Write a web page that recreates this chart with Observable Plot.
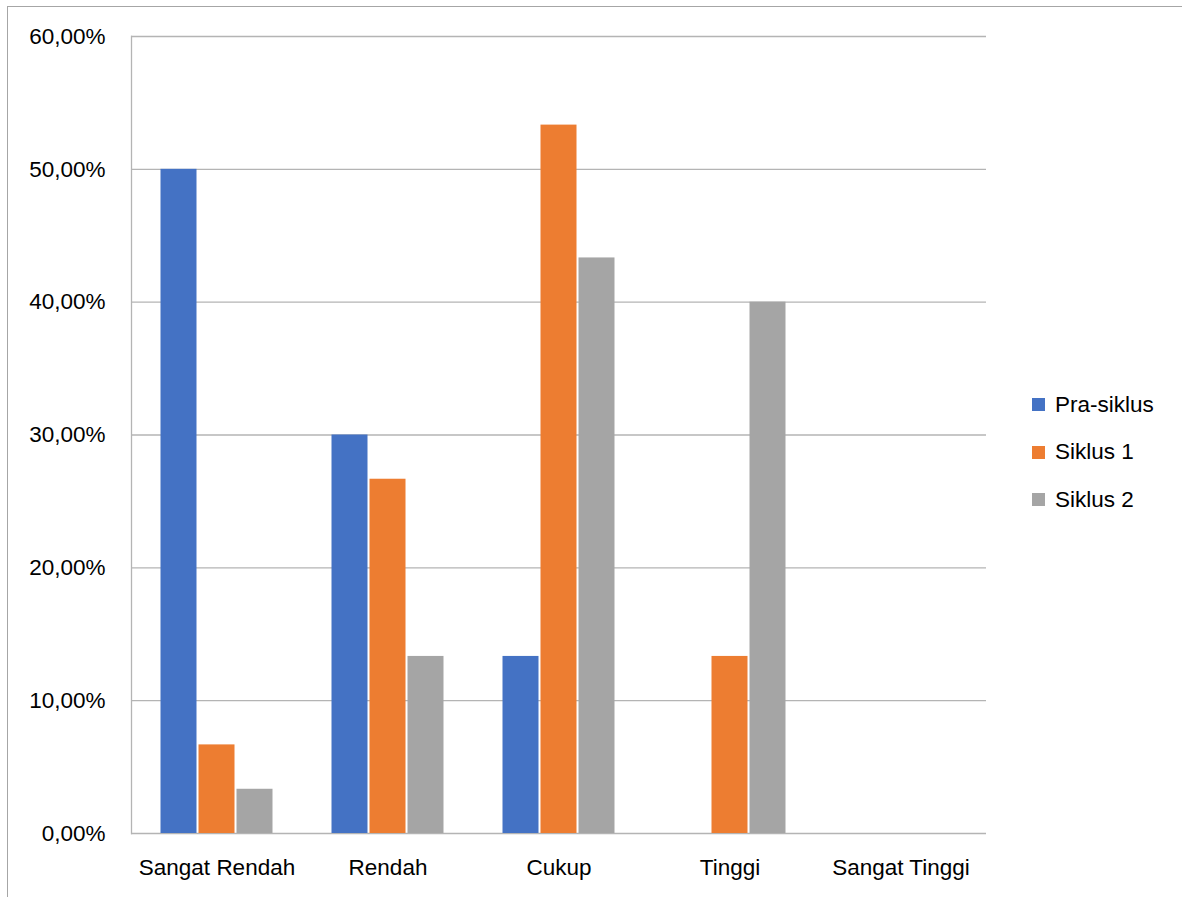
<!DOCTYPE html>
<html>
<head>
<meta charset="utf-8">
<script src="https://cdn.jsdelivr.net/npm/d3@7"></script>
<script src="https://cdn.jsdelivr.net/npm/@observablehq/plot@0.6"></script>
<style>
  html, body { margin: 0; padding: 0; background: #fff; }
  #wrap { position: relative; width: 1182px; height: 897px; overflow: hidden; font-family: "Liberation Sans", Arial, sans-serif; }
  #border { position: absolute; left: 7px; top: 6px; right: -2px; bottom: -2px; border-top: 1.5px solid #a6a6a6; border-left: 1.5px solid #a6a6a6; }
  #chart { position: absolute; left: 0; top: 0; }
  #legend { position: absolute; left: 1032px; top: 381px; font-size: 22.5px; color: #000; }
  #legend .item { display: flex; align-items: center; height: 47.5px; }
  #legend .sw { width: 13px; height: 13px; margin-right: 10px; }
</style>
</head>
<body>
<div id="wrap">
  <div id="border"></div>
  <div id="chart"></div>
  <div id="legend"></div>
</div>
<script>
const categories = ["Sangat Rendah", "Rendah", "Cukup", "Tinggi", "Sangat Tinggi"];
const series = ["Pra-siklus", "Siklus 1", "Siklus 2"];
const colors = ["#4472C4", "#ED7D31", "#A5A5A5"];
const praSiklus = [50.00, 30.00, 13.33, 0, 0];
const siklus1 = [6.67, 26.67, 53.33, 13.33, 0];
const siklus2 = [3.33, 13.33, 43.33, 40.00, 0];
const yTicks = [0, 10, 20, 30, 40, 50, 60];

const values = [praSiklus, siklus1, siklus2];
const data = [];
categories.forEach((c, i) => {
  series.forEach((s, j) => data.push({category: c, series: s, value: values[j][i]}));
});

const fmt = d => d.toFixed(2).replace(".", ",") + "%";

const chart = Plot.plot({
  width: 1182,
  height: 897,
  marginLeft: 129,
  marginRight: 194,
  marginTop: 36,
  marginBottom: 64,
  style: {fontFamily: "'Liberation Sans', Arial, sans-serif", fontSize: "22.5px", color: "#000", background: "transparent"},
  fx: {domain: categories, padding: 0, label: null, axis: "bottom", tickSize: 0, tickPadding: 26},
  x: {domain: series, axis: null, paddingInner: 0.03, paddingOuter: 0.76},
  y: {domain: [0, 60], ticks: yTicks, tickFormat: fmt, label: null, tickSize: 0, tickPadding: 26},
  color: {domain: series, range: colors},
  marks: [
    Plot.ruleY(yTicks, {stroke: "#b4b4b4", strokeWidth: 1.3}),
    Plot.frame({anchor: "left", stroke: "#b4b4b4", strokeWidth: 1.3, facet: "super"}),
    Plot.barY(data, {fx: "category", x: "series", y: "value", fill: "series", insetLeft: 0.5, insetRight: 0.5})
  ]
});
document.getElementById("chart").appendChild(chart);

const legend = document.getElementById("legend");
series.forEach((s, j) => {
  const item = document.createElement("div");
  item.className = "item";
  const sw = document.createElement("div");
  sw.className = "sw";
  sw.style.background = colors[j];
  const t = document.createElement("span");
  t.textContent = s;
  item.appendChild(sw);
  item.appendChild(t);
  legend.appendChild(item);
});
</script>
</body>
</html>
